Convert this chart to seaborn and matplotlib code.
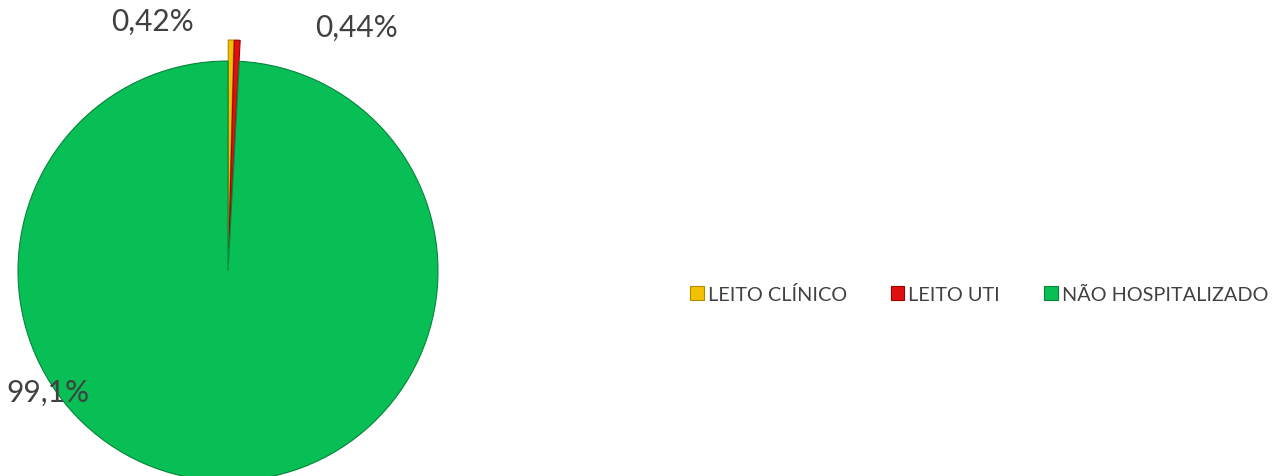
import matplotlib
matplotlib.use('Agg')
import matplotlib.pyplot as plt
import seaborn as sns

# dados
categorias = ['LEITO CLÍNICO', 'LEITO UTI', 'NÃO HOSPITALIZADO']
valores = [0.42, 0.44, 99.1]
rotulos = ['0,42%', '0,44%', '99,1%']
cores = ['#F2C200', '#E01010', '#08BF55']
bordas = ['#B08A00', '#A00000', '#07843C']

sns.set_style('white')
plt.rcParams['font.family'] = ['Lato', 'DejaVu Sans']

W, H = 1274, 477
fig = plt.figure(figsize=(W / 100, H / 100), dpi=100)

# eixo da pizza em pixels: centro (228, 272), raio 210
r = 210
cx, cy = 228, 272
ax = fig.add_axes([(cx - r) / W, (H - cy - r) / H, 2 * r / W, 2 * r / H])

wedges, _ = ax.pie(valores, colors=cores, startangle=90, counterclock=False,
                   explode=[0.1, 0.1, 0], radius=1,
                   wedgeprops=dict(linewidth=0.8))
for w, b in zip(wedges, bordas):
    w.set_edgecolor(b)
    w.set_clip_on(False)
ax.set_xlim(-1, 1)
ax.set_ylim(-1, 1)
ax.set_aspect('equal')
ax.axis('off')

# rótulos de dados
pos = [(153, 22), (356, 28), (48, 393)]
for txt, (x, y) in zip(rotulos, pos):
    fig.text(x / W, 1 - y / H, txt, ha='center', va='center',
             fontsize=21.5, color='#404040')

fig.legend(wedges, categorias, loc='center', bbox_to_anchor=(979 / W, 1 - 295 / H),
           ncol=3, frameon=False, fontsize=14.3, labelcolor='#404040',
           handlelength=0.7, handleheight=0.7, handletextpad=0.2,
           columnspacing=2.2)

fig.savefig('out.png', dpi=100)
